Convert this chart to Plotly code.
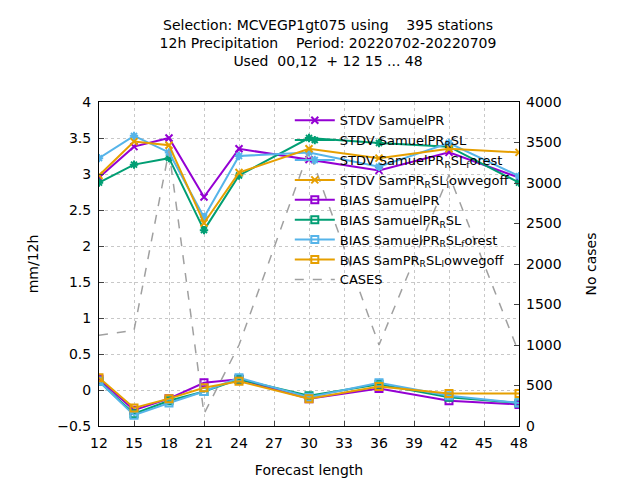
import plotly.graph_objects as go

hours = [12, 15, 18, 21, 24, 30, 36, 42, 48]

stdv_samuel = [2.95, 3.38, 3.50, 2.68, 3.35, 3.20, 3.05, 3.30, 2.95]
stdv_rsl = [2.88, 3.13, 3.22, 2.22, 2.98, 3.50, 3.43, 3.38, 2.88]
stdv_forest = [3.22, 3.53, 3.30, 2.40, 3.25, 3.30, 3.10, 3.43, 2.97]
stdv_lowveg = [2.98, 3.45, 3.40, 2.32, 3.02, 3.35, 3.22, 3.35, 3.30]

bias_samuel = [0.15, -0.28, -0.12, 0.10, 0.15, -0.12, 0.02, -0.15, -0.20]
bias_rsl = [0.12, -0.33, -0.15, -0.02, 0.15, -0.08, 0.08, -0.10, -0.18]
bias_forest = [0.12, -0.35, -0.18, -0.02, 0.17, -0.10, 0.10, -0.08, -0.18]
bias_lowveg = [0.17, -0.25, -0.12, 0.03, 0.12, -0.12, 0.05, -0.05, -0.05]

cases = [1120, 1180, 3400, 150, 1000, 3400, 1000, 3100, 900]

purple, green, blue, orange = "#9400d3", "#009e73", "#56b4e9", "#e69f00"

fig = go.Figure()
series = [
    ("STDV SamuelPR", stdv_samuel, purple, "x-thin-open"),
    ("STDV SamuelPR<sub>R</sub>SL", stdv_rsl, green, "asterisk-open"),
    ("STDV SamuelPR<sub>R</sub>SL<sub>f</sub>orest", stdv_forest, blue, "asterisk-open"),
    ("STDV SamPR<sub>R</sub>SL<sub>l</sub>owvegoff", stdv_lowveg, orange, "x-thin-open"),
    ("BIAS SamuelPR", bias_samuel, purple, "square-open"),
    ("BIAS SamuelPR<sub>R</sub>SL", bias_rsl, green, "square-open"),
    ("BIAS SamuelPR<sub>R</sub>SL<sub>f</sub>orest", bias_forest, blue, "square-open"),
    ("BIAS SamPR<sub>R</sub>SL<sub>l</sub>owvegoff", bias_lowveg, orange, "square-open"),
]
for name, vals, col, sym in series:
    fig.add_trace(go.Scatter(
        x=hours, y=vals, name=name, mode="lines+markers",
        line=dict(color=col, width=2),
        marker=dict(symbol=sym, size=7, color=col, line=dict(color=col, width=2))
    ))

fig.add_trace(go.Scatter(
    x=hours, y=cases, name="CASES", mode="lines", yaxis="y2",
    line=dict(color="#a0a0a0", width=1.5, dash="dash")
))

axis_common = dict(showline=True, linecolor="black", mirror=True, ticks="inside",
                   showgrid=True, gridcolor="#c8c8c8", griddash="dot", zeroline=False,
                   tickfont=dict(size=14, color="black"))

fig.update_layout(
    width=640, height=480,
    paper_bgcolor="white", plot_bgcolor="white",
    font=dict(family="DejaVu Sans", size=14, color="black"),
    margin=dict(l=91, r=129, t=94, b=62),
    title=dict(text="Selection: MCVEGP1gt075 using    395 stations<br>12h Precipitation    Period: 20220702-20220709<br>Used  00,12  + 12 15 ... 48",
               x=0.5, xanchor="center", y=0.955, yanchor="top", font=dict(size=14)),
    xaxis=dict(axis_common, range=[12, 48], tickvals=list(range(12, 49, 3)),
               ticklabelstandoff=4,
               title=dict(text="Forecast length", font=dict(size=14))),
    yaxis=dict(axis_common, range=[-0.5, 4], dtick=0.5, ticklabelstandoff=4,
               title=dict(text="mm/12h", font=dict(size=14))),
    yaxis2=dict(overlaying="y", side="right", range=[0, 4000], dtick=500,
                showgrid=False, ticks="inside", ticklabelstandoff=6,
                tickfont=dict(size=14, color="black"),
                title=dict(text="No cases", font=dict(size=14), standoff=25)),
    legend=dict(x=0.99, y=0.99, xanchor="right", yanchor="top", bgcolor="rgba(0,0,0,0)",
                font=dict(size=13), tracegroupgap=0, itemwidth=40),
)

fig.write_html("out.html")
